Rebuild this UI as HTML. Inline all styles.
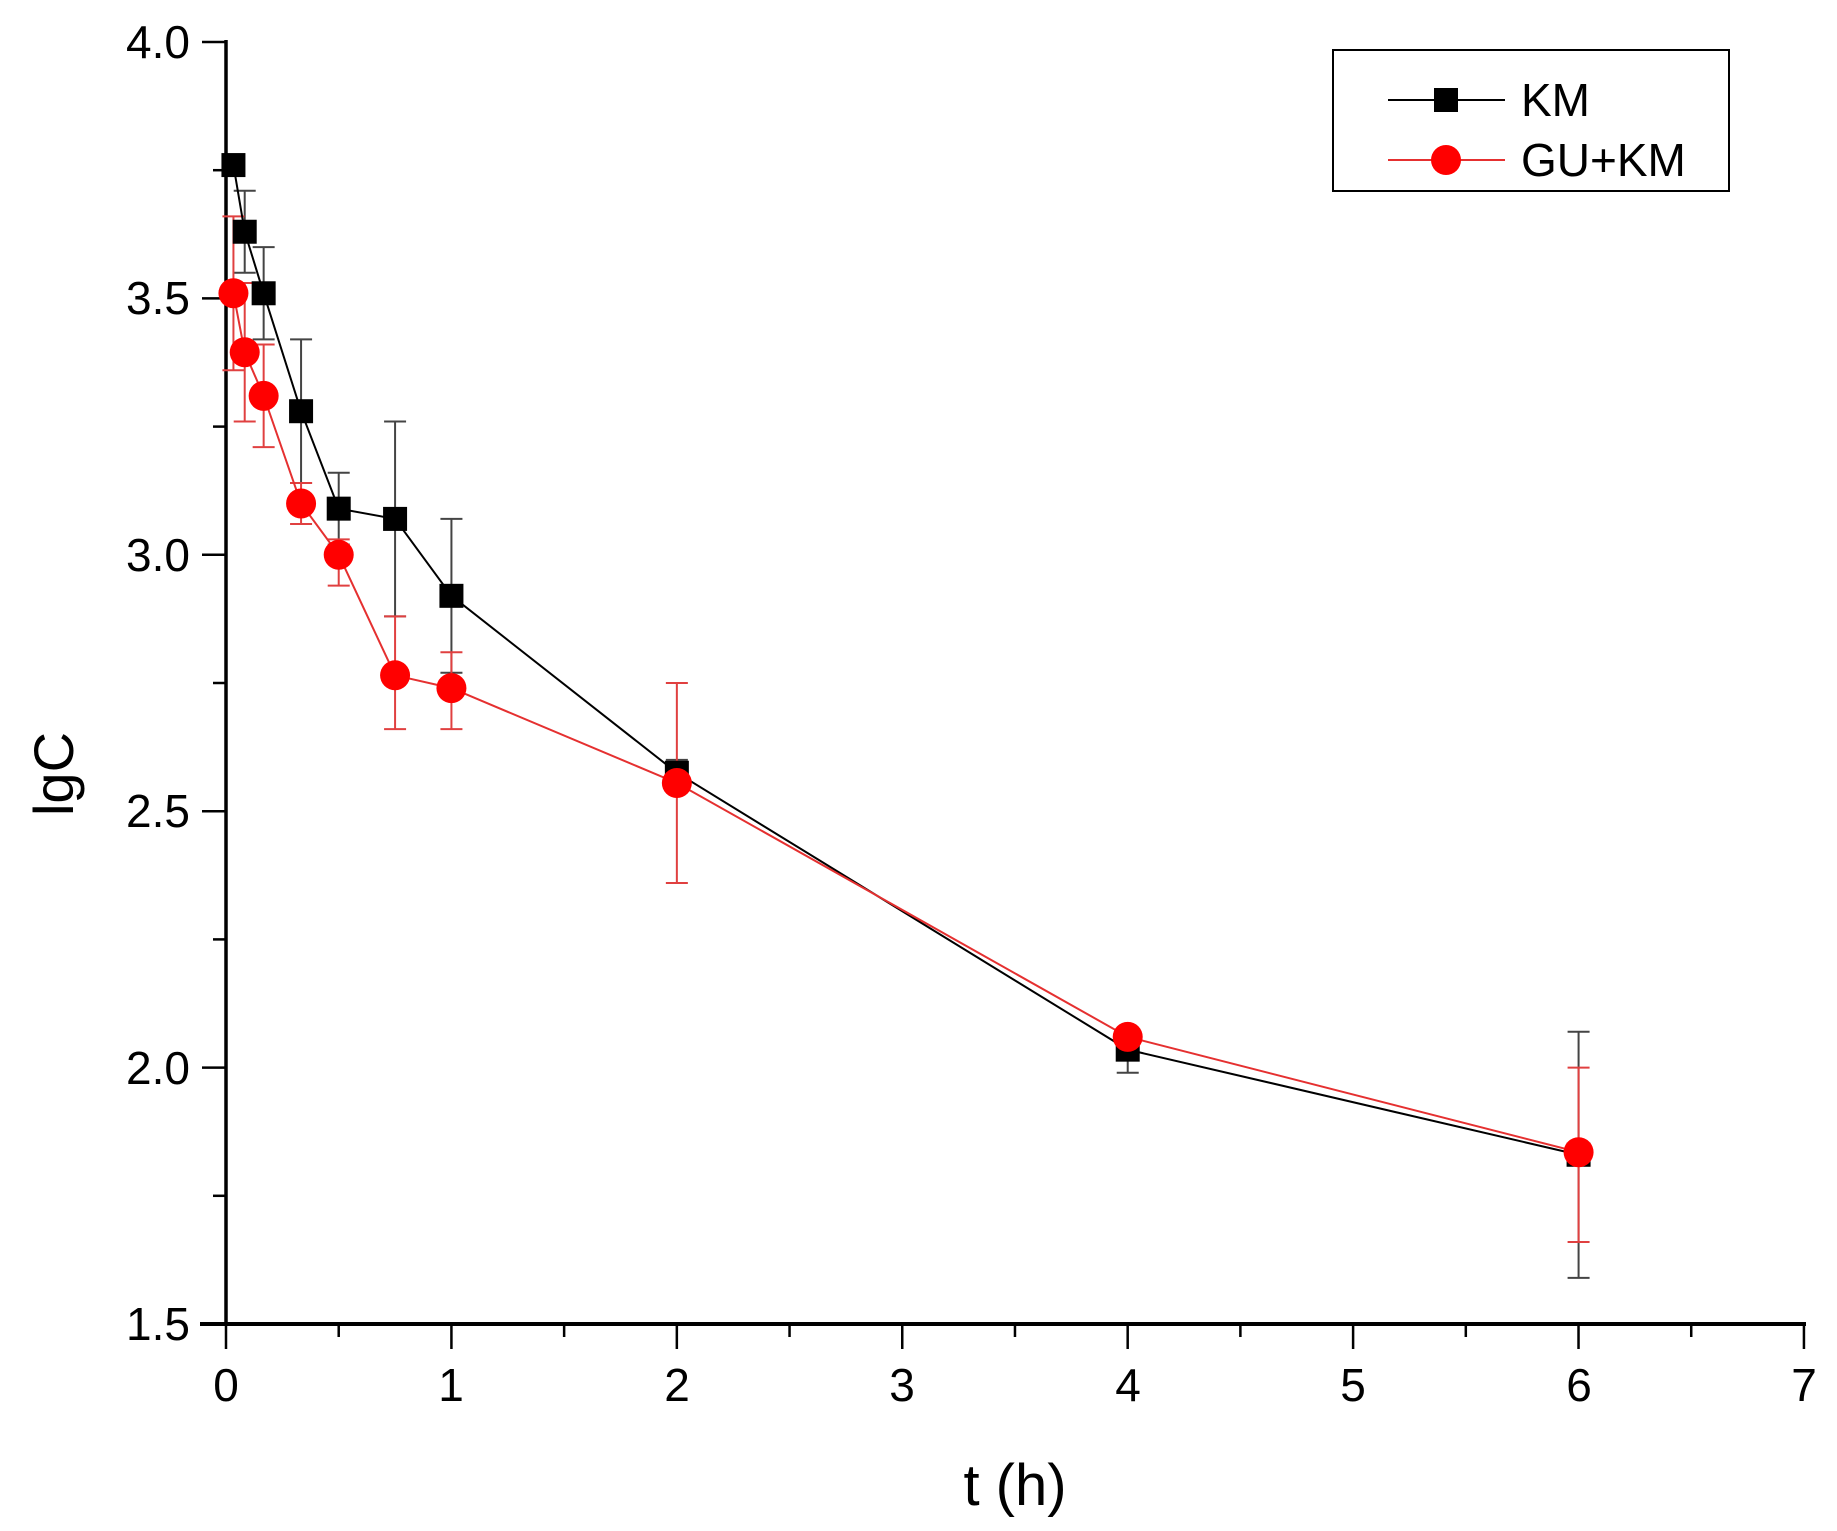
<!DOCTYPE html>
<html><head><meta charset="utf-8"><style>
html,body{margin:0;padding:0;background:#fff;}
svg{display:block;font-family:"Liberation Sans",Arial,sans-serif;}
</style></head><body>
<svg id="c" width="1837" height="1531" viewBox="0 0 1837 1531" xmlns="http://www.w3.org/2000/svg">
<rect width="1837" height="1531" fill="#fff"/>
<g id="g"></g>
<g font-size="46" text-anchor="end">
<text x="190" y="58">4.0</text>
<text x="190" y="314">3.5</text>
<text x="190" y="571">3.0</text>
<text x="190" y="827">2.5</text>
<text x="190" y="1084">2.0</text>
<text x="190" y="1340">1.5</text>
</g>
<g font-size="46" text-anchor="middle">
<text x="226" y="1401">0</text>
<text x="451" y="1401">1</text>
<text x="677" y="1401">2</text>
<text x="902" y="1401">3</text>
<text x="1128" y="1401">4</text>
<text x="1353" y="1401">5</text>
<text x="1579" y="1401">6</text>
<text x="1804" y="1401">7</text>
</g>
<text x="1015" y="1505" font-size="58" text-anchor="middle">t (h)</text>
<text transform="translate(73,774) rotate(-90)" font-size="56" text-anchor="middle">lgC</text>
<rect x="1333" y="50" width="396" height="141" fill="#fff" stroke="#000" stroke-width="2"/>
<line x1="1388" y1="100" x2="1505" y2="100" stroke="#000" stroke-width="2"/>
<rect x="1434" y="88" width="24" height="24" fill="#000"/>
<line x1="1388" y1="160" x2="1505" y2="160" stroke="#e53030" stroke-width="2"/>
<circle cx="1446" cy="160" r="15" fill="#f00"/>
<text x="1521" y="116" font-size="46">KM</text>
<text x="1521" y="176" font-size="46">GU+KM</text>
</svg>
<script>
var g=document.getElementById('g'),NS='http://www.w3.org/2000/svg';
function X(t){return 226+t*225.43;}function Y(v){return 42+(4-v)*512.8;}
function el(n,a){var e=document.createElementNS(NS,n);for(var k in a)e.setAttribute(k,a[k]);g.appendChild(e);return e;}
el('line',{x1:226,y1:40,x2:226,y2:1326,stroke:'#000','stroke-width':3.5});
el('line',{x1:200,y1:1324,x2:1806,y2:1324,stroke:'#000','stroke-width':4});
for(var i=0;i<=14;i++){var x=226+i*112.71;el('line',{x1:x,y1:1324,x2:x,y2:i%2?1337:1349,stroke:'#000','stroke-width':2.5});}
for(var i=0;i<=10;i++){var y=42+i*128.2;el('line',{x1:226,y1:y,x2:i%2?213:202,y2:y,stroke:'#000','stroke-width':2.5});}
var t=[0.033,0.083,0.167,0.333,0.5,0.75,1,2,4,6];
var km=[3.76,3.63,3.51,3.28,3.09,3.07,2.92,2.575,2.035,1.83];
var kmu=[3.76,3.71,3.60,3.42,3.16,3.26,3.07,2.60,2.06,2.07];
var kml=[3.76,3.55,3.42,3.14,3.02,2.88,2.77,2.55,1.99,1.59];
var gu=[3.51,3.395,3.31,3.10,3.00,2.765,2.74,2.555,2.06,1.835];
var guu=[3.66,3.53,3.41,3.14,3.03,2.88,2.81,2.75,2.07,2.00];
var gul=[3.36,3.26,3.21,3.06,2.94,2.66,2.66,2.36,2.04,1.66];
function err(col,u,l,w){for(var i=0;i<t.length;i++){var x=X(t[i]);el('line',{x1:x,y1:Y(u[i]),x2:x,y2:Y(l[i]),stroke:col,'stroke-width':w});
el('line',{x1:x-11,y1:Y(u[i]),x2:x+11,y2:Y(u[i]),stroke:col,'stroke-width':w});el('line',{x1:x-11,y1:Y(l[i]),x2:x+11,y2:Y(l[i]),stroke:col,'stroke-width':w});}}
function line(col,v){var p=t.map(function(tt,i){return X(tt)+','+Y(v[i]);}).join(' ');el('polyline',{points:p,fill:'none',stroke:col,'stroke-width':2});}
err('#444',kmu,kml,2);err('#e04040',guu,gul,2);
line('#000',km);
for(var i=0;i<t.length;i++)el('rect',{x:X(t[i])-12,y:Y(km[i])-12,width:24,height:24,fill:'#000'});
line('#e53030',gu);
for(var i=0;i<t.length;i++)el('circle',{cx:X(t[i]),cy:Y(gu[i]),r:15,fill:'#f00'});
</script>
</body></html>
